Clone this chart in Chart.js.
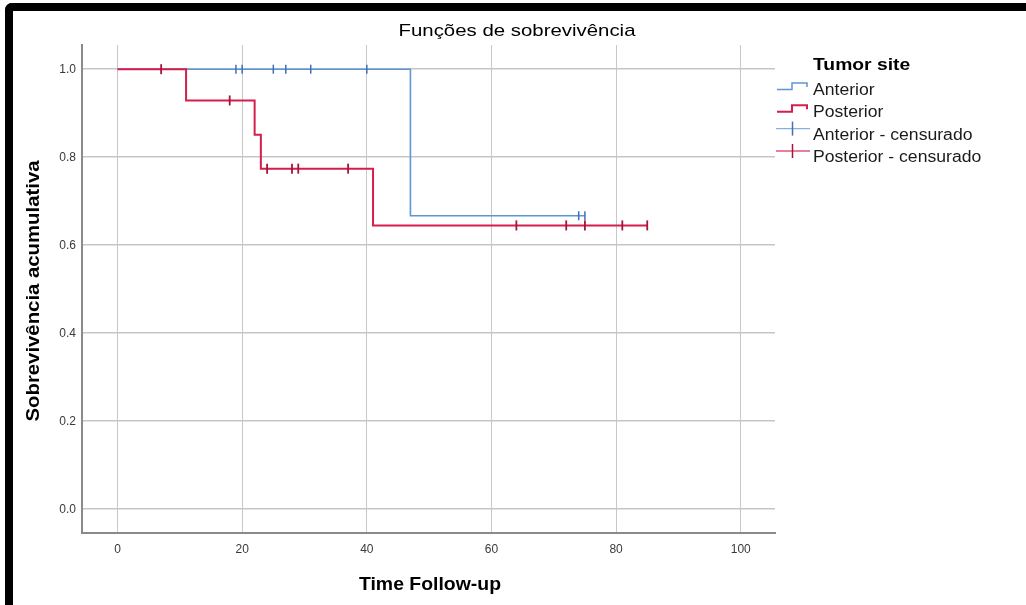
<!DOCTYPE html>
<html>
<head>
<meta charset="utf-8">
<script src="https://cdn.jsdelivr.net/npm/chart.js@4/dist/chart.umd.min.js"></script>
<style>
  html, body { margin: 0; padding: 0; background: #ffffff; overflow: hidden; }
  #wrap { position: absolute; left: 0; top: 0; width: 1026px; height: 605px; }
  #frame { position: absolute; left: 5px; top: 3px; width: 1200px; height: 800px;
           border-left: 8px solid #000; border-top: 8px solid #000; border-top-left-radius: 7px;
           pointer-events: none; box-sizing: border-box; }
</style>
</head>
<body>
<div id="wrap">
  <canvas id="c" width="1026" height="605"></canvas>
  <div id="frame"></div>
</div>
<script>
// ---- Data ----
const chartTitle = "Funções de sobrevivência";
const xAxisTitle = "Time Follow-up";
const yAxisTitle = "Sobrevivência acumulativa";
const legendTitle = "Tumor site";
const seriesNames = ["Anterior", "Posterior", "Anterior - censurado", "Posterior - censurado"];

const xTickValues = [0, 20, 40, 60, 80, 100];
const yTickValues = [0.0, 0.2, 0.4, 0.6, 0.8, 1.0];

// Kaplan-Meier step points (time, cumulative survival)
const anteriorTimes = [0, 47, 75];
const anteriorSurv  = [1.0, 0.667, 0.667];
const posteriorTimes = [0, 11, 22, 23, 41, 85];
const posteriorSurv  = [1.0, 0.929, 0.851, 0.774, 0.645, 0.645];

// Censored observations
const anteriorCensorTimes = [19, 20, 25, 27, 31, 40, 74, 75];
const anteriorCensorSurv  = [1.0, 1.0, 1.0, 1.0, 1.0, 1.0, 0.667, 0.667];
const posteriorCensorTimes = [7, 18, 24, 28, 29, 37, 64, 72, 75, 81, 85];
const posteriorCensorSurv  = [1.0, 0.929, 0.774, 0.774, 0.774, 0.774, 0.645, 0.645, 0.645, 0.645, 0.645];

// ---- Styles ----
const BLUE = '#5f95d4';
const BLUE_C = '#3f6fb5';
const RED = '#d41f4c';
const RED_C = '#a3163a';
const FONT = "'Liberation Sans', Arial, sans-serif";

const toPts = (xs, ys) => xs.map((x, i) => ({ x: x, y: ys[i] }));

function stretchText(ctx, text, x, y, font, sx, align, color, rotate) {
  ctx.save();
  ctx.translate(x, y);
  if (rotate) ctx.rotate(-Math.PI / 2);
  ctx.scale(sx, 1);
  ctx.font = font;
  ctx.textAlign = align;
  ctx.textBaseline = 'alphabetic';
  ctx.fillStyle = color;
  ctx.fillText(text, 0, 0);
  ctx.restore();
}

const decorPlugin = {
  id: 'decor',
  afterDraw(chart) {
    const ctx = chart.ctx;
    // Title
    stretchText(ctx, chartTitle, 517, 36, "17px " + FONT, 1.2, 'center', '#000');
    // Axis titles
    stretchText(ctx, xAxisTitle, 430, 590, "bold 17.5px " + FONT, 1.11, 'center', '#000');
    stretchText(ctx, yAxisTitle, 38.5, 291, "bold 19px " + FONT, 1.07, 'center', '#000', true);

    // Legend
    const lx = 813;
    stretchText(ctx, legendTitle, lx, 69.5, "bold 16.5px " + FONT, 1.17, 'left', '#000');
    const rows = [95, 117.3, 139.6, 162];
    const itemFont = "16px " + FONT;
    seriesNames.forEach((name, i) => {
      stretchText(ctx, name, lx, rows[i], itemFont, 1.1, 'left', '#1a1a1a');
    });
    ctx.save();
    ctx.lineCap = 'butt';
    // step icons
    [[BLUE, rows[0]], [RED, rows[1]]].forEach(([col, by], i) => {
      ctx.strokeStyle = col;
      ctx.lineWidth = i === 0 ? 1.5 : 2;
      ctx.beginPath();
      ctx.moveTo(777, by - 5.5);
      ctx.lineTo(792, by - 5.5);
      ctx.lineTo(792, by - 12);
      ctx.lineTo(807, by - 12);
      ctx.lineTo(807, by - 8);
      ctx.stroke();
    });
    // censor icons
    [[BLUE, BLUE_C, rows[2]], [RED, RED_C, rows[3]]].forEach(([col, ccol, by]) => {
      const cy = by - 11;
      ctx.globalAlpha = 0.75;
      ctx.strokeStyle = col;
      ctx.lineWidth = 1.3;
      ctx.beginPath();
      ctx.moveTo(776, cy); ctx.lineTo(810, cy);
      ctx.stroke();
      ctx.globalAlpha = 1;
      ctx.strokeStyle = ccol;
      ctx.lineWidth = 1.5;
      ctx.beginPath();
      ctx.moveTo(792.5, cy - 7); ctx.lineTo(792.5, cy + 7);
      ctx.stroke();
    });
    ctx.restore();
  }
};

const ctx = document.getElementById('c').getContext('2d');
new Chart(ctx, {
  type: 'scatter',
  data: {
    datasets: [
      {
        label: seriesNames[0],
        data: toPts(anteriorTimes, anteriorSurv),
        showLine: true, stepped: true,
        borderColor: BLUE, borderWidth: 1.6,
        pointRadius: 0, pointHoverRadius: 0,
        order: 4
      },
      {
        label: seriesNames[1],
        data: toPts(posteriorTimes, posteriorSurv),
        showLine: true, stepped: true,
        borderColor: RED, borderWidth: 2,
        pointRadius: 0, pointHoverRadius: 0,
        order: 3
      },
      {
        label: seriesNames[2],
        data: toPts(anteriorCensorTimes, anteriorCensorSurv),
        showLine: false,
        pointStyle: 'line', rotation: 90,
        pointRadius: 4.5, borderColor: BLUE_C, backgroundColor: BLUE_C, pointBorderWidth: 1.5,
        order: 2
      },
      {
        label: seriesNames[3],
        data: toPts(posteriorCensorTimes, posteriorCensorSurv),
        showLine: false,
        pointStyle: 'line', rotation: 90,
        pointRadius: 5, borderColor: RED_C, backgroundColor: RED_C, pointBorderWidth: 1.8,
        order: 1
      }
    ]
  },
  options: {
    responsive: false,
    animation: false,
    devicePixelRatio: 1,
    layout: { padding: { left: 0, right: 251, top: 45, bottom: 0 } },
    plugins: {
      legend: { display: false },
      title: { display: false },
      tooltip: { enabled: false }
    },
    scales: {
      x: {
        type: 'linear',
        min: -5.7, max: 105.5,
        afterFit: (s) => { s.height = 72; },
        afterBuildTicks: (s) => { s.ticks = xTickValues.map(v => ({ value: v })); },
        grid: { color: '#c8c8c8', lineWidth: 1, drawTicks: false },
        border: { display: true, color: '#8a8a8a', width: 2 },
        ticks: {
          padding: 9, color: '#3a3a3a',
          font: { family: FONT, size: 12 },
          callback: (v) => String(v)
        }
      },
      y: {
        type: 'linear',
        min: -0.054, max: 1.055,
        afterFit: (s) => { s.width = 82; },
        afterBuildTicks: (s) => { s.ticks = yTickValues.map(v => ({ value: v })); },
        grid: { color: '#c6c6c6', lineWidth: 1.5, drawTicks: false },
        border: { display: true, color: '#8a8a8a', width: 2 },
        ticks: {
          padding: 6, color: '#3a3a3a',
          font: { family: FONT, size: 12 },
          callback: (v) => Number(v).toFixed(1)
        }
      }
    }
  },
  plugins: [decorPlugin]
});
</script>
</body>
</html>
